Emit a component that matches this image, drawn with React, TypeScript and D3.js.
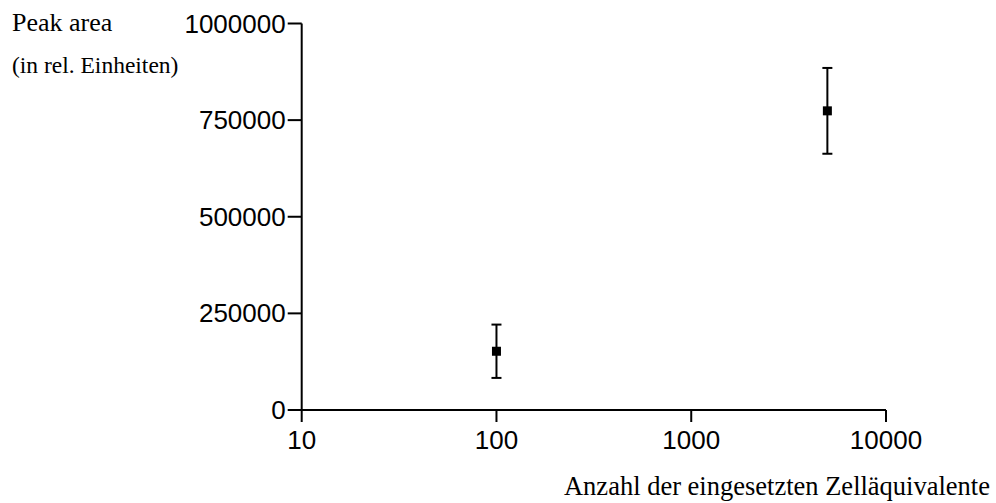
import React from "react";
import * as d3 from "d3";

// Cell equivalents used per sample and the measured peak areas (mean ± error)
const cellCounts = [100, 5000];
const peakMeans = [152000, 774000];
const peakErrors = [69000, 111000];

const xTicks = [10, 100, 1000, 10000];
const yTicks = [0, 250000, 500000, 750000, 1000000];

const yTitle = "Peak area";
const yTitleSub = "(in rel. Einheiten)";
const xTitle = "Anzahl der eingesetzten Zelläquivalente";

const W = 996;
const H = 503;
const SANS = "'Liberation Sans', Arial, Helvetica, sans-serif";
const SERIF = "'Liberation Serif', 'Times New Roman', serif";

export default function App() {
  const x = d3.scaleLog().domain([10, 10000]).range([301.7, 886]);
  const y = d3.scaleLinear().domain([0, 1000000]).range([410, 23.5]);

  const x0 = x.range()[0];
  const y0 = y.range()[0];
  const tickLen = 14;
  const capHalf = 5;
  const markerSize = 9;

  return (
    <svg
      width={W}
      height={H}
      style={{ position: "absolute", left: 0, top: 0, background: "#fff" }}
    >
      <rect x={0} y={0} width={W} height={H} fill="#fff" />

      {/* Y axis */}
      <line x1={x0} x2={x0} y1={y.range()[1]} y2={y0} stroke="#000" strokeWidth={2} />
      {yTicks.map((t) => (
        <g key={"y" + t}>
          <line x1={x0 - tickLen} x2={x0} y1={y(t)} y2={y(t)} stroke="#000" strokeWidth={2} />
          <text
            x={x0 - tickLen - 2}
            y={y(t)}
            dy="0.35em"
            textAnchor="end"
            fontFamily={SANS}
            fontSize={26}
            fill="#000"
          >
            {d3.format("d")(t)}
          </text>
        </g>
      ))}

      {/* X axis */}
      <line x1={x0} x2={x.range()[1]} y1={y0} y2={y0} stroke="#000" strokeWidth={2} />
      {xTicks.map((t) => (
        <g key={"x" + t}>
          <line x1={x(t)} x2={x(t)} y1={y0} y2={y0 + 12} stroke="#000" strokeWidth={2} />
          <text
            x={x(t)}
            y={449}
            textAnchor="middle"
            fontFamily={SANS}
            fontSize={26}
            fill="#000"
          >
            {d3.format("d")(t)}
          </text>
        </g>
      ))}

      {/* Error bars and markers */}
      {cellCounts.map((c, i) => {
        const cx = x(c);
        const top = y(peakMeans[i] + peakErrors[i]);
        const bot = y(peakMeans[i] - peakErrors[i]);
        return (
          <g key={"p" + i}>
            <line x1={cx} x2={cx} y1={top} y2={bot} stroke="#000" strokeWidth={2} />
            <line x1={cx - capHalf} x2={cx + capHalf} y1={top} y2={top} stroke="#000" strokeWidth={2} />
            <line x1={cx - capHalf} x2={cx + capHalf} y1={bot} y2={bot} stroke="#000" strokeWidth={2} />
            <rect
              x={cx - markerSize / 2}
              y={y(peakMeans[i]) - markerSize / 2}
              width={markerSize}
              height={markerSize}
              fill="#000"
            />
          </g>
        );
      })}

      {/* Titles */}
      <text x={12} y={31} fontFamily={SERIF} fontSize={26} fill="#000">
        {yTitle}
      </text>
      <text x={12} y={73} fontFamily={SERIF} fontSize={23.5} fill="#000">
        {yTitleSub}
      </text>
      <text x={990} y={495} textAnchor="end" fontFamily={SERIF} fontSize={26.5} fill="#000">
        {xTitle}
      </text>
    </svg>
  );
}
